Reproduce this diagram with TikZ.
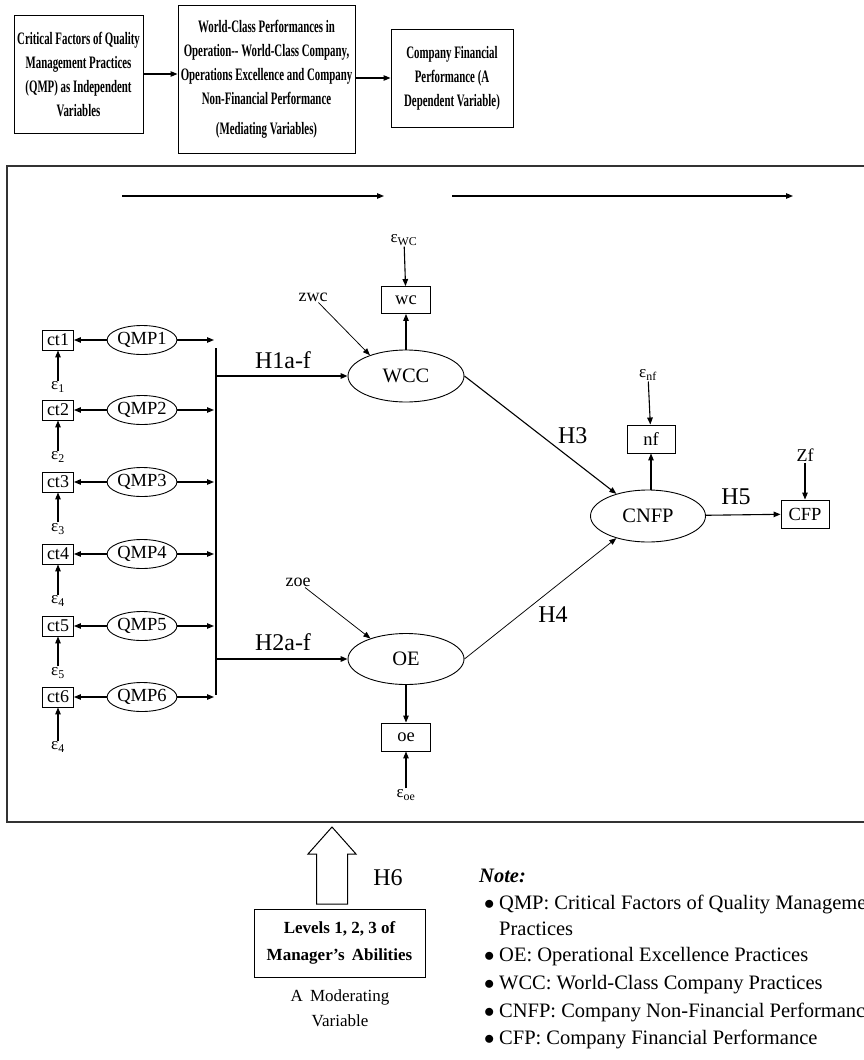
\documentclass[tikz,border=0pt]{standalone}
\usepackage{fontspec}
\setmainfont{Liberation Serif}
\newfontfamily\condfont[FakeStretch=0.62]{Liberation Serif}
\usepackage{tikz}
\usetikzlibrary{arrows.meta,shapes.geometric}
\newcommand{\epsb}[1]{ε\textsubscript{#1}}
\newcommand{\nbul}{\makebox[15pt][l]{$\bullet$}}
\tikzset{
  >={Triangle[length=7pt,width=5.5pt]},
  topbox/.style ={rectangle, draw, line width=1pt, inner sep=0pt, align=center,
                  font=\condfont\bfseries\fontsize{17.5}{24}\selectfont},
  modbox/.style ={rectangle, draw, line width=1pt, inner sep=0pt, align=center,
                  font=\bfseries\fontsize{17}{27}\selectfont},
  frame/.style  ={draw, line width=1.4pt, black!80},
  obs/.style    ={rectangle, draw, line width=0.9pt, inner sep=0pt,
                  minimum width=48, minimum height=28, font=\fontsize{18.5}{18.5}\selectfont},
  ind/.style    ={rectangle, draw, line width=0.9pt, inner sep=0pt,
                  minimum width=31, minimum height=20, font=\fontsize{18}{18}\selectfont},
  qmp/.style    ={ellipse, draw, line width=0.9pt, inner sep=0pt,
                  minimum width=64, minimum height=29, font=\fontsize{18.5}{18.5}\selectfont},
  lat/.style    ={ellipse, draw, line width=0.9pt, inner sep=0pt,
                  minimum width=116, minimum height=52, font=\fontsize{20.5}{20.5}\selectfont},
  err/.style    ={inner sep=1pt, font=\fontsize{17}{17}\selectfont},
  dist/.style   ={inner sep=1pt, font=\fontsize{18}{18}\selectfont},
  hyp/.style    ={inner sep=0pt, font=\fontsize{24}{24}\selectfont},
  con/.style    ={->, draw, line width=1.1pt},
  thk/.style    ={->, draw, line width=1.5pt},
  thn/.style    ={->, draw, line width=0.75pt},
  trunk/.style  ={draw, line width=1.1pt},
  hollow/.style ={draw, line width=1pt, fill=white},
  note/.style   ={anchor=west, inner sep=0pt, font=\fontsize{20.5}{24}\selectfont},
  txt/.style    ={inner sep=0pt, align=center, font=\fontsize{17}{25}\selectfont},
}

\begin{document}
\begin{tikzpicture}[x=1pt, y=-1pt]
\path[use as bounding box, clip] (0,0) rectangle (864,1060);

% ---- conceptual chain (top) -----------------------------------------
\node[topbox, minimum width=129, minimum height=118] (indep) at (78.5,74)
  {Critical Factors of Quality\\Management Practices\\(QMP) as Independent\\Variables};
\node[topbox, minimum width=177, minimum height=148] (medi) at (266.5,79)
  {World-Class Performances in\\Operation-- World-Class Company,\\Operations Excellence and Company\\Non-Financial Performance\\[6pt](Mediating Variables)};
\node[topbox, minimum width=122, minimum height=98] (depv) at (452,78)
  {Company Financial\\Performance (A\\Dependent Variable)};
\draw[con] (indep.east) -- (indep.east -| medi.west);
\draw[con] (medi.east |- depv.west) -- (depv.west);

% ---- structural model frame -----------------------------------------
\draw[frame] (7,166) rectangle (880,822);
\coordinate (fa1) at (122,196);
\coordinate (fa2) at (384,196);
\coordinate (fb1) at (452,196);
\coordinate (fb2) at (793,196);
\draw[con] (fa1) -- (fa2);
\draw[con] (fb1) -- (fb2);

% ---- QMP factors and indicators (left) ------------------------------
\node[ind] (ct1) at (58,340) {ct1};  \node[qmp] (qmp1) at (142,340) {QMP1};
\node[ind] (ct2) at (58,410) {ct2};  \node[qmp] (qmp2) at (142,410) {QMP2};
\node[ind] (ct3) at (58,482) {ct3};  \node[qmp] (qmp3) at (142,482) {QMP3};
\node[ind] (ct4) at (58,554) {ct4};  \node[qmp] (qmp4) at (142,554) {QMP4};
\node[ind] (ct5) at (58,626) {ct5};  \node[qmp] (qmp5) at (142,626) {QMP5};
\node[ind] (ct6) at (58,697) {ct6};  \node[qmp] (qmp6) at (142,697) {QMP6};

\node[err] (e1) at (58,387) {\epsb{1}};
\node[err] (e2) at (58,457) {\epsb{2}};
\node[err] (e3) at (58,529) {\epsb{3}};
\node[err] (e4) at (58,601) {\epsb{4}};
\node[err] (e5) at (58,673) {\epsb{5}};
\node[err] (e6) at (58,747) {\epsb{4}};

\draw[con] (qmp1) -- (ct1);  \draw[con] (e1) -- (ct1);
\draw[con] (qmp2) -- (ct2);  \draw[con] (e2) -- (ct2);
\draw[con] (qmp3) -- (ct3);  \draw[con] (e3) -- (ct3);
\draw[con] (qmp4) -- (ct4);  \draw[con] (e4) -- (ct4);
\draw[con] (qmp5) -- (ct5);  \draw[con] (e5) -- (ct5);
\draw[con] (qmp6) -- (ct6);  \draw[con] (e6) -- (ct6);

% arrows into the collecting line
\coordinate (t1) at (214,340);
\coordinate (t2) at (214,410);
\coordinate (t3) at (214,482);
\coordinate (t4) at (214,554);
\coordinate (t5) at (214,626);
\coordinate (t6) at (214,697);
\draw[con] (qmp1) -- (t1);
\draw[con] (qmp2) -- (t2);
\draw[con] (qmp3) -- (t3);
\draw[con] (qmp4) -- (t4);
\draw[con] (qmp5) -- (t5);
\draw[con] (qmp6) -- (t6);
\coordinate (trtop) at (216,348);
\coordinate (trbot) at (216,695);
\draw[trunk] (trtop) -- (trbot);

% ---- mediators ------------------------------------------------------
\node[lat] (wcc) at (406,376) {WCC};
\node[lat, minimum height=51] (oe) at (406,659) {OE};
\node[lat, minimum width=115] (cnfp) at (648,516) {CNFP};

\coordinate (j1) at (216,376);
\coordinate (j2) at (216,659);
\draw[thk] (j1) -- (wcc);
\draw[thk] (j2) -- (oe);
\node[hyp] (h1) at (283,360) {H1a-f};
\node[hyp] (h2) at (283,642) {H2a-f};

\node[obs, minimum width=49, minimum height=27] (wcind) at (406,300) {wc};
\node[err] (ewc) at (404,240) {\epsb{WC}};
\draw[con] (ewc) -- (wcind);
\draw[con] (wcc) -- (wcind);
\node[dist] (zwc) at (313,297) {zwc};
\draw[thn] (zwc) -- (wcc.150);

\node[obs, minimum width=49] (oeind) at (406,737) {oe};
\node[err] (eoe) at (406,795) {\epsb{oe}};
\draw[con] (oe) -- (oeind);
\draw[con] (eoe) -- (oeind);
\node[dist] (zoe) at (298,582) {zoe};
\draw[thn] (zoe) -- (oe.150);

% ---- outcomes (right) -----------------------------------------------
\node[obs] (nfind) at (651,439) {nf};
\node[err] (enf) at (648,375) {\epsb{nf}};
\draw[con] (enf) -- (nfind);
\draw[con] (cnfp.north -| nfind) -- (nfind);

\draw[con] (wcc.east) -- node[hyp, pos=0.6, above right=2pt] {H3} (cnfp.145);
\draw[thn] (oe.east) -- (cnfp.215);
\node[hyp] (h4) at (553,615) {H4};

\node[obs] (cfp) at (805,514) {CFP};
\node[dist] (zf) at (805,455) {Zf};
\draw[con] (zf) -- (cfp);
\draw[con] (cnfp) -- (cfp);
\node[hyp] (h5) at (736,497) {H5};

% ---- moderator (bottom) ---------------------------------------------
\draw[hollow] (316.5,904) -- (316.5,854) -- (308,854) -- (332,827)
  -- (356,854) -- (347.5,854) -- (347.5,904) -- cycle;
\node[hyp] (h6) at (388,878) {H6};
\node[modbox, minimum width=171, minimum height=68] (lvl) at (339.5,943)
  {Levels 1, 2, 3 of\\Manager's\, Abilities};
\node[txt] (lvlsub) at (340,1008) {A\, Moderating\\Variable};

% ---- note -----------------------------------------------------------
\node[note] (nhead) at (479,876) {\bfseries\itshape Note:};
\node[note] (n1) at (484,904) {\nbul QMP: Critical Factors of Quality Management};
\node[note] (n1b) at (499,929) {Practices};
\node[note] (n2) at (484,957) {\nbul OE: Operational Excellence Practices};
\node[note] (n3) at (484,985) {\nbul WCC: World-Class Company Practices};
\node[note] (n4) at (484,1012) {\nbul CNFP: Company Non-Financial Performance};
\node[note] (n5) at (484,1039) {\nbul CFP: Company Financial Performance};
\end{tikzpicture}
\end{document}
